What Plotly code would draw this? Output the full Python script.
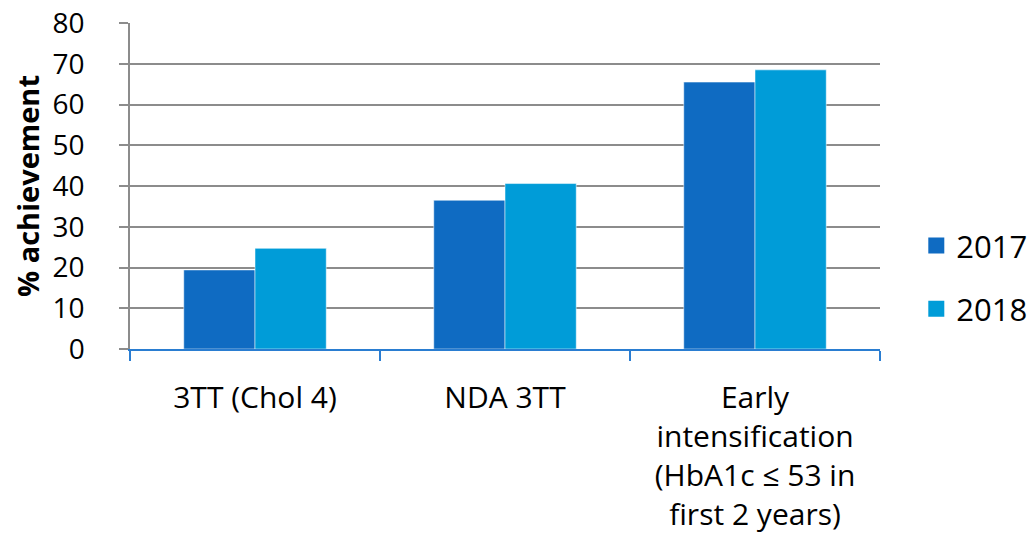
import plotly.graph_objects as go

categories = ["3TT (Chol 4)", "NDA 3TT", "Early<br>intensification<br>(HbA1c ≤ 53 in<br>first 2 years)"]
series_names = ["2017", "2018"]
values_2017 = [19.4, 36.5, 65.5]
values_2018 = [24.7, 40.6, 68.5]
tick_values = [0, 10, 20, 30, 40, 50, 60, 70, 80]
colors = ["#0F6BC2", "#009CD8"]

FONT = "'Open Sans', Lato, sans-serif"

fig = go.Figure()
for name, vals, col in zip(series_names, [values_2017, values_2018], colors):
    fig.add_trace(go.Bar(
        x=categories, y=vals, name=name, legendgroup=name, showlegend=False,
        marker=dict(color=col, line=dict(color="rgba(255,255,255,0.5)", width=1)),
    ))
    # legend entry with a larger square swatch
    fig.add_trace(go.Scatter(
        x=[None], y=[None], mode="markers", name=name, legendgroup=name,
        marker=dict(symbol="square", size=20, color=col),
    ))

fig.update_layout(
    width=1035, height=551,
    margin=dict(l=122, r=162, t=15, b=210),
    paper_bgcolor="white", plot_bgcolor="white",
    barmode="group", bargap=0.43, bargroupgap=0,
    font=dict(family=FONT, size=29, color="#000000"),
    legend=dict(
        x=1.047, xanchor="left", y=0.22, yanchor="middle",
        font=dict(size=31), tracegroupgap=20,
        bgcolor="rgba(0,0,0,0)", itemwidth=30, itemsizing="trace",
    ),
    showlegend=True,
)
fig.update_xaxes(
    automargin=False,
    showline=True, linecolor="#2A7DD1", linewidth=2,
    ticks="outside", tickson="boundaries", ticklen=10, tickcolor="#2A7DD1", tickwidth=2,
    showgrid=False, tickfont=dict(size=30), ticklabelstandoff=21,
)
fig.update_yaxes(
    automargin=False,
    range=[0, 80], tickmode="array", tickvals=tick_values,
    showgrid=True, gridcolor="#8C8C8C", gridwidth=1.5,
    showline=True, linecolor="#8C8C8C", linewidth=1.5,
    ticks="outside", ticklen=9, tickcolor="#8C8C8C", tickwidth=1.5,
    zeroline=False, tickfont=dict(size=28), ticklabelstandoff=29,
    ticklabeloverflow="allow",
    title=dict(text="<b>% achievement</b>", font=dict(size=29), standoff=6),
)

fig.write_html("out.html")
